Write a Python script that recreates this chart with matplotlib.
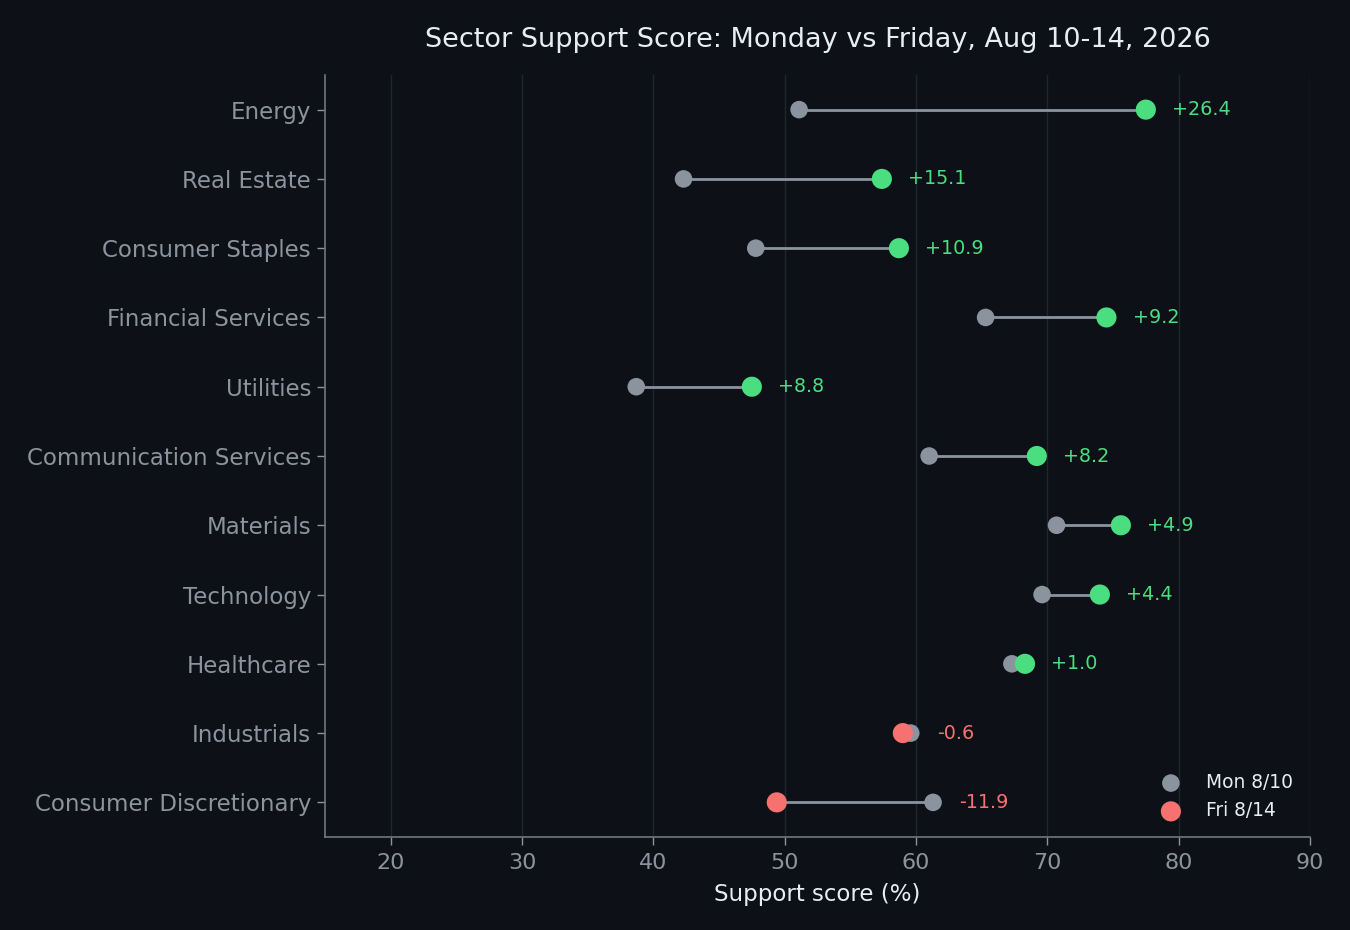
import matplotlib
matplotlib.use("Agg")
import matplotlib.pyplot as plt
import numpy as np

# Data (bottom to top)
sectors = ["Consumer Discretionary", "Industrials", "Healthcare", "Technology",
           "Materials", "Communication Services", "Utilities", "Financial Services",
           "Consumer Staples", "Real Estate", "Energy"]
mon = [61.3, 59.6, 67.3, 69.6, 70.7, 61.0, 38.7, 65.3, 47.8, 42.3, 51.1]
fri = [49.4, 59.0, 68.3, 74.0, 75.6, 69.2, 47.5, 74.5, 58.7, 57.4, 77.5]
xticks = [20, 30, 40, 50, 60, 70, 80, 90]

BG = "#0d1117"
GRAY = "#8b949e"
GREEN = "#4ade80"
RED = "#f87171"
GRID = "#21262d"
TEXT = "#e6edf3"

fig = plt.figure(figsize=(13.5, 9.3), dpi=100, facecolor=BG)
ax = fig.add_axes([325/1350, 1-837/930, (1310-325)/1350, (837-75)/930])
ax.set_facecolor(BG)

y = np.arange(len(sectors))
diff = [f - m for m, f in zip(mon, fri)]
fri_colors = [GREEN if d >= 0 else RED for d in diff]

for yi, m, f in zip(y, mon, fri):
    ax.plot([m, f], [yi, yi], color=GRAY, lw=2, zorder=2)

ax.scatter(mon, y, s=160, color=GRAY, zorder=3, label="Mon 8/10", edgecolors="none")
ax.scatter(fri, y, s=210, c=fri_colors, zorder=4, label="Fri 8/14", edgecolors="none")

for yi, m, f, d, c in zip(y, mon, fri, diff, fri_colors):
    ax.text(max(m, f) + 2.0, yi, f"{d:+.1f}", color=c, fontsize=13.8,
            va="center", ha="left")

ax.set_xlim(15, 90)
ax.set_ylim(-0.5, len(sectors) - 0.5)
ax.set_xticks(xticks)
ax.set_yticks(y)
ax.set_yticklabels(sectors)
ax.tick_params(axis="both", colors=GRAY, labelsize=16, length=6, width=1)
ax.tick_params(axis="x", pad=5.5)
ax.tick_params(axis="y", labelsize=16.5, pad=4)
for lbl in ax.get_xticklabels() + ax.get_yticklabels():
    lbl.set_color(GRAY)

ax.grid(axis="x", color=GRID, lw=1)
ax.set_axisbelow(True)
for s in ["top", "right"]:
    ax.spines[s].set_visible(False)
for s in ["left", "bottom"]:
    ax.spines[s].set_color("#6e7681")
    ax.spines[s].set_linewidth(1.2)

ax.set_xlabel("Support score (%)", color=TEXT, fontsize=16.5, labelpad=7.5)
ax.set_title("Sector Support Score: Monday vs Friday, Aug 10-14, 2026",
             color=TEXT, fontsize=19.5, pad=20.5)

leg = ax.legend(loc="lower right", frameon=False, fontsize=13.4, labelcolor=TEXT,
                handletextpad=0.9, borderaxespad=0.5)

fig.savefig("out.png", dpi=100, facecolor=BG)
